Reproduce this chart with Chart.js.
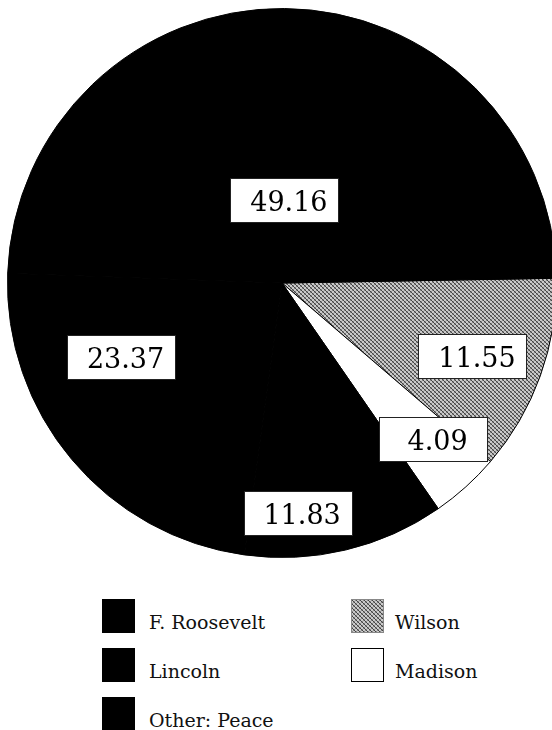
<!DOCTYPE html>
<html>
<head>
<meta charset="utf-8">
<script src="https://cdn.jsdelivr.net/npm/chart.js@4/dist/chart.umd.min.js"></script>
<style>
  html, body { margin: 0; padding: 0; background: #fff; overflow: hidden; }
  body { width: 552px; height: 730px; position: relative; }
  #pie { position: absolute; left: 7px; top: 8px; }
  .sw { position: absolute; width: 33px; height: 34px; box-sizing: border-box; }
  .lt { position: absolute; font-family: "DejaVu Serif", serif; font-size: 19px; line-height: 30px; color: #111; white-space: nowrap; }
</style>
</head>
<body>
<canvas id="pie" width="550" height="550"></canvas>
<div id="legend"></div>
<script>
// slices, clockwise from 3 o'clock
const categories = ['Wilson', 'Madison', 'Other: Peace', 'Lincoln', 'F. Roosevelt'];
const shares = [11.55, 4.09, 11.83, 23.37, 49.16];
const shareText = ['11.55', '4.09', '11.83', '23.37', '49.16'];
// legend columns
const legendCols = [['F. Roosevelt', 'Lincoln', 'Other: Peace'], ['Wilson', 'Madison']];

// gray screen for Wilson
function makeScreen() {
  const c = document.createElement('canvas');
  c.width = 4; c.height = 4;
  const g = c.getContext('2d');
  g.fillStyle = '#cacaca';
  g.fillRect(0, 0, 4, 4);
  for (let i = 0; i < 4; i++) {
    g.fillStyle = '#444';
    g.fillRect(i, i, 1, 1);
    g.fillStyle = '#8a8a8a';
    g.fillRect(i, 3 - i, 1, 1);
  }
  return c;
}
const screenTile = makeScreen();
const ctx = document.getElementById('pie').getContext('2d');
const screen = ctx.createPattern(screenTile, 'repeat');

const fills = {
  'Wilson': screen,
  'Madison': '#ffffff',
  'Other: Peace': '#000000',
  'Lincoln': '#000000',
  'F. Roosevelt': '#000000'
};

// where the value boxes sit: angle (deg) and fraction of radius
const boxAngle = [21, 46, 86, 155, -88];
const boxRadius = [0.745, 0.795, 0.84, 0.645, 0.30];

const valueBoxes = {
  id: 'valueBoxes',
  afterDatasetsDraw(chart) {
    const c = chart.ctx;
    const meta = chart.getDatasetMeta(0);
    c.save();
    c.font = '27px "DejaVu Serif", serif';
    c.textAlign = 'center';
    c.textBaseline = 'alphabetic';
    meta.data.forEach(function (arc, i) {
      const a = boxAngle[i] * Math.PI / 180;
      const r = arc.outerRadius * boxRadius[i];
      const cx = arc.x + Math.cos(a) * r;
      const cy = arc.y + Math.sin(a) * r;
      const w = 109, h = 45;
      c.fillStyle = '#fff';
      c.fillRect(Math.round(cx - w / 2), Math.round(cy - h / 2), w, h);
      c.strokeStyle = '#222';
      c.lineWidth = 1;
      c.strokeRect(Math.round(cx - w / 2) + 0.5, Math.round(cy - h / 2) + 0.5, w - 1, h - 1);
      c.fillStyle = '#000';
      c.fillText(shareText[i], cx + 4, cy + 10.5);
    });
    c.restore();
  }
};

new Chart(ctx, {
  type: 'pie',
  data: {
    labels: categories,
    datasets: [{
      data: shares,
      backgroundColor: categories.map(function (k) { return fills[k]; }),
      borderColor: '#000',
      borderWidth: 1
    }]
  },
  options: {
    responsive: false,
    animation: false,
    rotation: 89,
    layout: { padding: 0 },
    plugins: {
      legend: { display: false },
      tooltip: { enabled: false }
    }
  },
  plugins: [valueBoxes]
});

// legend
const legend = document.getElementById('legend');
const colX = [[102, 149], [351, 395]];
const rowY = [599, 648, 697];
legendCols.forEach(function (col, ci) {
  col.forEach(function (name, ri) {
    const sw = document.createElement('div');
    sw.className = 'sw';
    sw.style.left = colX[ci][0] + 'px';
    sw.style.top = rowY[ri] + 'px';
    if (name === 'Wilson') {
      sw.style.backgroundImage = 'url(' + screenTile.toDataURL() + ')';
      sw.style.border = '1px solid #888';
    } else if (name === 'Madison') {
      sw.style.background = '#fff';
      sw.style.border = '1.5px solid #000';
    } else {
      sw.style.background = '#000';
    }
    legend.appendChild(sw);
    const t = document.createElement('div');
    t.className = 'lt';
    t.style.left = colX[ci][1] + 'px';
    t.style.top = (rowY[ri] + 8) + 'px';
    t.textContent = name;
    legend.appendChild(t);
  });
});
</script>
</body>
</html>
